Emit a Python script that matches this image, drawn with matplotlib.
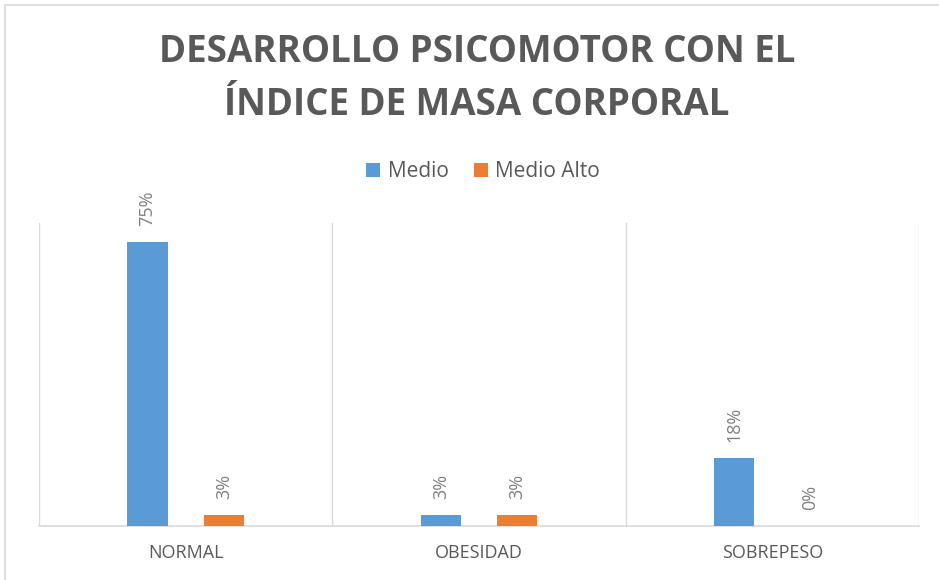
import matplotlib
matplotlib.use("Agg")
import matplotlib.pyplot as plt
import numpy as np
from matplotlib.patches import Rectangle

categories = ["NORMAL", "OBESIDAD", "SOBREPESO"]
series_names = ["Medio", "Medio Alto"]
medio = [0.75, 0.03, 0.18]
medio_alto = [0.03, 0.03, 0.00]
value_labels_medio = ["75%", "3%", "18%"]
value_labels_alto = ["3%", "3%", "0%"]

blue = "#5B9BD5"
orange = "#ED7D31"
grid_c = "#D9D9D9"
text_c = "#595959"

plt.rcParams['font.family'] = ['Open Sans', 'DejaVu Sans']

fig = plt.figure(figsize=(9.39, 5.8), dpi=100)
fig.patch.set_facecolor("white")
# chart border
fig.add_artist(Rectangle((5/939, -0.1), 1.2, 1 - 5/580 + 0.1, transform=fig.transFigure,
                         fill=False, edgecolor=grid_c, linewidth=1.2))

ax = fig.add_axes([39/939, 1 - 526/580, 880/939, (526 - 223)/580])
x = np.arange(len(categories))
w = 0.137
off = 0.13
b1 = ax.bar(x - off, medio, w, color=blue, label=series_names[0], zorder=3)
b2 = ax.bar(x + off, medio_alto, w, color=orange, label=series_names[1], zorder=3)

for bars, labels in ((b1, value_labels_medio), (b2, value_labels_alto)):
    for r, lab in zip(bars, labels):
        ax.annotate(lab, (r.get_x() + r.get_width() / 2, r.get_height()),
                    xytext=(0, 11.5), textcoords="offset points", rotation=90,
                    ha="center", va="bottom", fontsize=13, color="#7F7F7F")

ax.set_xlim(-0.5, 2.5)
ax.set_ylim(0, 0.8)
for xv in [-0.5, 0.5, 1.5, 2.5]:
    ax.axvline(xv, color=grid_c, linewidth=1, zorder=1)
for s in ["top", "left", "right"]:
    ax.spines[s].set_visible(False)
ax.spines["bottom"].set_color(grid_c)
ax.spines["bottom"].set_linewidth(1.2)
ax.set_yticks([])
ax.set_xticks(x)
ax.set_xticklabels(categories, fontsize=13, color=text_c)
ax.tick_params(axis="x", length=0, pad=13)

fig.text(477/939, 1 - 52/580, "DESARROLLO PSICOMOTOR CON EL", ha="center", va="center",
         fontsize=26.5, fontweight="bold", color=text_c)
fig.text(477/939, 1 - 105/580, "ÍNDICE DE MASA CORPORAL", ha="center", va="center",
         fontsize=26.5, fontweight="bold", color=text_c)

leg = fig.legend(handles=[b1, b2], labels=series_names, loc="center",
                 bbox_to_anchor=(483/939, 1 - 172/580), ncol=2, frameon=False,
                 fontsize=15, handlelength=0.7, handleheight=0.7, handletextpad=0.35,
                 columnspacing=1.2, labelcolor=text_c)

fig.savefig("out.png", dpi=100, facecolor="white")
